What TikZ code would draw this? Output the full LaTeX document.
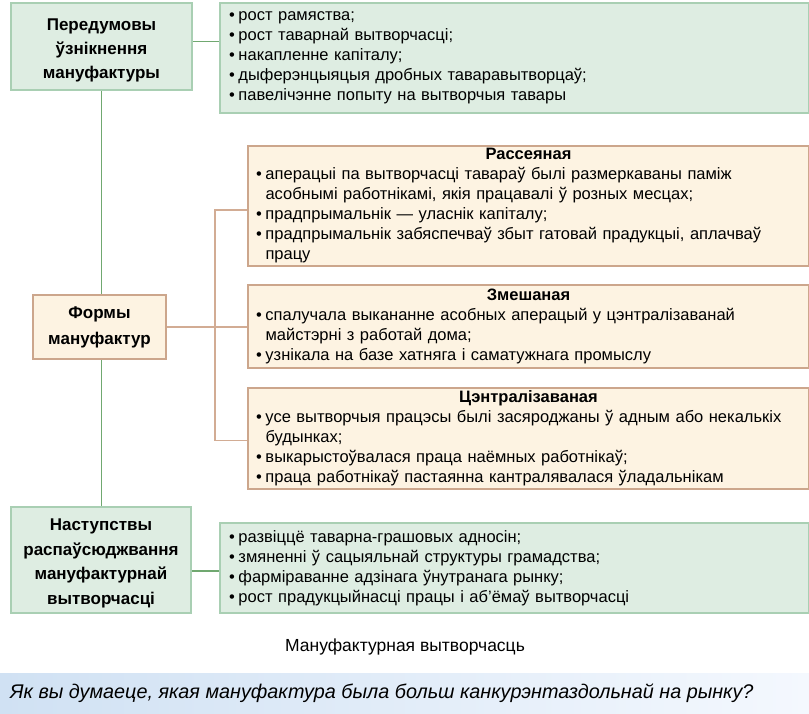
\documentclass[tikz,border=0pt]{standalone}
\usepackage{fontspec}
\setmainfont{Liberation Sans}
\usetikzlibrary{positioning}
\definecolor{greenfill}{HTML}{DEEDE2}
\definecolor{greenedge}{HTML}{A9CFB3}
\definecolor{greenwire}{HTML}{70A870}
\definecolor{tanfill}{HTML}{FDF3E2}
\definecolor{tanedge}{HTML}{CCA68C}
\definecolor{tanwire}{HTML}{D2AC94}
\definecolor{askleft}{HTML}{D0E1F3}
\definecolor{askright}{HTML}{F4F8FE}
\newlength\bulw \setlength\bulw{9.5pt}
\newcommand\bul[1]{\noindent\hangindent=\bulw\hangafter=1\makebox[\bulw][l]{\textbullet}#1\par}
\tikzset{
	greenbox/.style={draw=greenedge, fill=greenfill, line width=2pt, anchor=north west, inner sep=0pt},
	tanbox/.style={draw=tanedge, fill=tanfill, line width=2pt, anchor=north west, inner sep=0pt},
	headtext/.style={align=center, font=\bfseries\fontsize{17}{24}\selectfont},
	listtext/.style={align=left, text width=550pt, font=\fontsize{16.5}{20}\selectfont},
	greenline/.style={draw=greenwire, line width=1.6pt},
	tanline/.style={draw=tanwire, line width=1.6pt}
}

\begin{document}
\begin{tikzpicture}[x=1pt, y=-1pt]
			%%%%% START %%%%%
			\useasboundingbox (0, 0) rectangle (809, 713);
			
			% green boxes, top
			\node[greenbox, headtext, minimum width=181pt, minimum height=87pt] (pered) at (10, 2)
				{\rule{0pt}{19pt}Передумовы\\ ўзнікнення\\ мануфактуры};
			\node[greenbox, listtext, minimum width=589pt, minimum height=110pt, text width=571pt] (prelist) at (219, 2)
				{\bul{рост рамяства;}
				\bul{рост таварнай вытворчасці;}
				\bul{накапленне капіталу;}
				\bul{дыферэнцыяцыя дробных таваравытворцаў;}
				\bul{павелічэнне попыту на вытворчыя тавары}};
			
			% forms
			\node[tanbox, headtext, font=\bfseries\fontsize{17}{26}\selectfont, minimum width=133pt, minimum height=64pt] (formy) at (32, 294)
				{Формы\\ мануфактур};
			\node[tanbox, listtext, minimum width=561pt, minimum height=120pt, text width=545pt] (rass) at (247, 145)
				{{\centering\bfseries Рассеяная\par}
				\bul{аперацыі па вытворчасці тавараў былі размеркаваны паміж\newline асобнымі работнікамі, якія працавалі ў розных месцах;}
				\bul{прадпрымальнік — уласнік капіталу;}
				\bul{прадпрымальнік забяспечваў збыт гатовай прадукцыі, аплачваў\newline працу}};
			\node[tanbox, listtext, minimum width=561pt, minimum height=83pt, text width=545pt] (zmesh) at (247, 284)
				{{\centering\bfseries Змешаная\par}
				\bul{спалучала выкананне асобных аперацый у цэнтралізаванай\newline майстэрні з работай дома;}
				\bul{узнікала на базе хатняга і саматужнага промыслу}};
			\node[tanbox, listtext, minimum width=561pt, minimum height=101pt, text width=545pt] (centr) at (247, 387)
				{{\centering\bfseries Цэнтралізаваная\par}
				\bul{усе вытворчыя працэсы былі засяроджаны ў адным або некалькіх\newline будынках;}
				\bul{выкарыстоўвалася праца наёмных работнікаў;}
				\bul{праца работнікаў пастаянна кантралявалася ўладальнікам}};
			
			% green boxes, bottom
			\node[greenbox, headtext, font=\bfseries\fontsize{17}{24.5}\selectfont, minimum width=180pt, minimum height=106pt] (nast) at (10, 506)
				{\rule{0pt}{19pt}Наступствы\\ распаўсюджвання\\ мануфактурнай\\ вытворчасці};
			\node[greenbox, listtext, minimum width=589pt, minimum height=90pt, text width=571pt] (postlist) at (219, 522)
				{\bul{развіццё таварна-грашовых адносін;}
				\bul{змяненні ў сацыяльнай структуры грамадства;}
				\bul{фарміраванне адзінага ўнутранага рынку;}
				\bul{рост прадукцыйнасці працы і аб’ёмаў вытворчасці}};
			
			% connectors
			\draw[greenline] ([yshift=5pt]pered.east) -- ([yshift=5pt]pered.east -| prelist.west);
			\draw[greenline] (pered.south) -- (pered.south |- formy.north);
			\draw[greenline] (formy.south -| pered.south) -- (nast.north -| pered.south);
			\draw[greenline] ([yshift=-3pt]postlist.west -| nast.east) -- ([yshift=-3pt]postlist.west);
			
			\coordinate (fork) at ([xshift=48pt]formy.east);
			\draw[tanline] ([yshift=-4pt]rass.west) -| (fork) |- ([yshift=-2pt]centr.west);
			\draw[tanline] (formy.east) -- (formy.east -| zmesh.west);
			
			% caption and question
			\node[font=\fontsize{17.5}{20}\selectfont] (caption) at (405, 647) {Мануфактурная вытворчасць};
			\shade[left color=askleft, right color=askright] (0, 673) rectangle (809, 713);
			\node[anchor=west, inner sep=0pt, font=\itshape\fontsize{19.8}{22}\selectfont] (ask) at (10, 693)
				{Як вы думаеце, якая мануфактура была больш канкурэнтаздольнай на рынку?};
			%%%%% END %%%%%
\end{tikzpicture}
\end{document}
